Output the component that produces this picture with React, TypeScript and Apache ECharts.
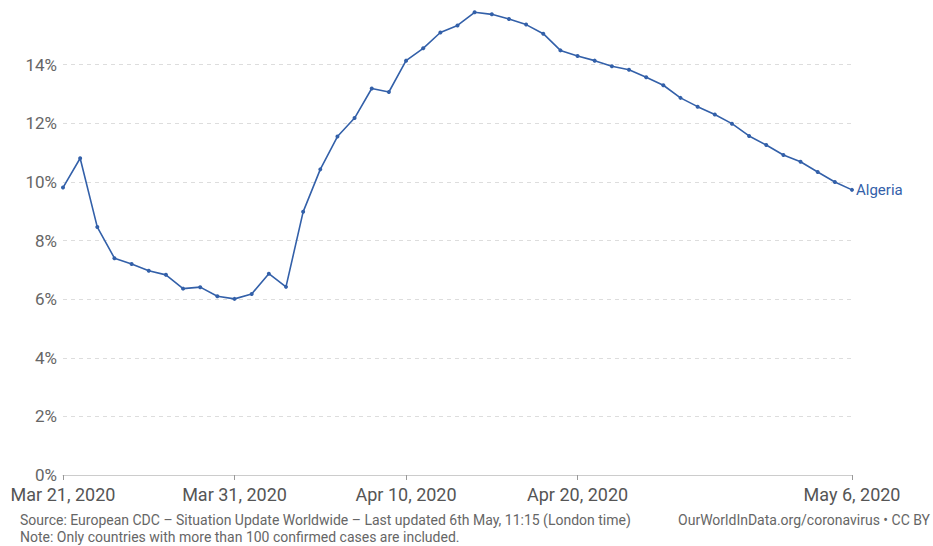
import React, { useEffect, useRef } from "react";
import * as echarts from "echarts";

const startDate = new Date(Date.UTC(2020, 2, 21));
const MONTHS = ["Jan", "Feb", "Mar", "Apr", "May", "Jun", "Jul", "Aug", "Sep", "Oct", "Nov", "Dec"];
const categories: string[] = [];
for (let i = 0; i < 47; i++) {
  const d = new Date(startDate.getTime() + i * 86400000);
  categories.push(`${MONTHS[d.getUTCMonth()]} ${d.getUTCDate()}, ${d.getUTCFullYear()}`);
}

const tickLabels = ["Mar 21, 2020", "Mar 31, 2020", "Apr 10, 2020", "Apr 20, 2020", "May 6, 2020"];

const algeria = [
  9.81, 10.81, 8.46, 7.4, 7.2, 6.97, 6.83, 6.36, 6.41, 6.1,
  6.01, 6.18, 6.87, 6.42, 8.98, 10.43, 11.55, 12.18, 13.19, 13.07,
  14.14, 14.56, 15.1, 15.34, 15.79, 15.72, 15.56, 15.37, 15.06, 14.49,
  14.3, 14.14, 13.95, 13.83, 13.57, 13.3, 12.87, 12.57, 12.3, 11.99,
  11.57, 11.26, 10.92, 10.69, 10.34, 10.0, 9.73,
];

const seriesName = "Algeria";
const lineColor = "#3360a9";
const FONT = "Roboto, 'Noto Sans', sans-serif";

export default function App() {
  const ref = useRef<HTMLDivElement>(null);
  useEffect(() => {
    if (!ref.current) return;
    const chart = echarts.init(ref.current, undefined, { renderer: "svg" });
    const showIdx = (i: number) => tickLabels.includes(categories[i]);
    chart.setOption({
      animation: false,
      backgroundColor: "#ffffff",
      textStyle: { fontFamily: FONT },
      grid: { left: 63, right: 81, top: 12, bottom: 71, containLabel: false },
      xAxis: {
        type: "category",
        data: categories,
        boundaryGap: false,
        axisLine: { show: true, lineStyle: { color: "#cccccc", width: 1 } },
        axisTick: {
          show: true,
          interval: (i: number) => showIdx(i),
          length: 5,
          lineStyle: { color: "#999999" },
        },
        axisLabel: {
          interval: (i: number) => showIdx(i),
          color: "#555555",
          fontSize: 18,
          lineHeight: 16,
          fontFamily: FONT,
          margin: 11,
        },
        splitLine: { show: false },
      },
      yAxis: {
        type: "value",
        min: 0,
        max: 15.8,
        interval: 2,
        axisLine: { show: false },
        axisTick: { show: false },
        axisLabel: {
          showMaxLabel: false,
          formatter: (v: number) => `${v}%`,
          color: "#666666",
          fontSize: 17,
          lineHeight: 14,
          fontFamily: FONT,
          margin: 6,
        },
        splitLine: {
          show: true,
          showMinLine: false,
          showMaxLine: false,
          lineStyle: { color: "#dddddd", type: [4, 4], width: 1 },
        },
      },
      series: [
        {
          name: seriesName,
          type: "line",
          data: algeria,
          symbol: "circle",
          symbolSize: 4,
          showSymbol: true,
          lineStyle: { color: lineColor, width: 1.6 },
          itemStyle: { color: lineColor },
          endLabel: {
            show: true,
            formatter: seriesName,
            color: lineColor,
            fontSize: 15,
            fontFamily: FONT,
            distance: 4,
          },
        },
      ],
      graphic: [
        {
          type: "text",
          left: 20,
          top: 513,
          style: {
            text: "Source: European CDC – Situation Update Worldwide – Last updated 6th May, 11:15 (London time)",
            fill: "#666666",
            font: `14px ${FONT}`,
          },
        },
        {
          type: "text",
          left: 20,
          top: 530,
          style: {
            text: "Note: Only countries with more than 100 confirmed cases are included.",
            fill: "#666666",
            font: `14px ${FONT}`,
          },
        },
        {
          type: "text",
          right: 3,
          top: 513,
          style: {
            text: "OurWorldInData.org/coronavirus • CC BY",
            fill: "#666666",
            font: `14px ${FONT}`,
          },
        },
      ],
    });
    return () => chart.dispose();
  }, []);
  return (
    <div
      ref={ref}
      style={{ position: "fixed", left: 0, top: 0, width: 933, height: 546 }}
    />
  );
}
